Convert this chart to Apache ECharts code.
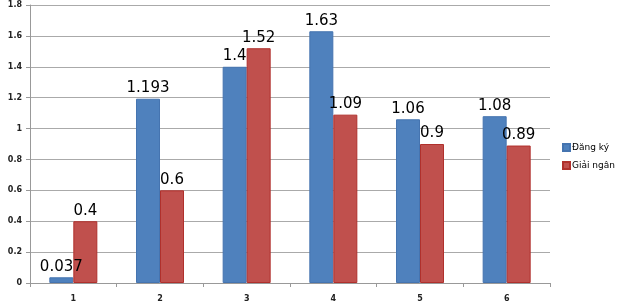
<!DOCTYPE html>
<html><head><meta charset="utf-8">
<script src="https://cdn.jsdelivr.net/npm/echarts@6/dist/echarts.min.js"></script>
<style>html,body{margin:0;padding:0;background:#fff}#c{width:620px;height:304px}</style>
</head><body><div id="c"></div>
<script>
const categories = ['1','2','3','4','5','6'];
const dangKy = [0.037, 1.193, 1.4, 1.63, 1.06, 1.08];
const giaiNgan = [0.4, 0.6, 1.52, 1.09, 0.9, 0.89];
const seriesNames = ['Đăng ký', 'Giải ngân'];

const chart = echarts.init(document.getElementById('c'));
const lbl = {show:true, position:'top', color:'#000', fontSize:15, fontFamily:'DejaVu Sans', distance:3};
chart.setOption({
  animation:false,
  grid:{left:30, right:70, top:5, bottom:21},
  legend:{
    orient:'vertical', left:562, top:143, padding:0, itemWidth:7, itemHeight:7, itemGap:9,
    icon:'rect',
    textStyle:{fontSize:9, color:'#000', fontFamily:'DejaVu Sans', padding:[0,0,0,-3]},
    data:seriesNames
  },
  xAxis:{
    type:'category', data:categories,
    axisLine:{lineStyle:{color:'#999'}},
    axisTick:{show:true, length:4, lineStyle:{color:'#999'}},
    axisLabel:{fontSize:8, color:'#222', fontWeight:'bold', margin:12, fontFamily:'DejaVu Sans'}
  },
  yAxis:{
    type:'value', min:0, max:1.8, interval:0.2,
    axisLine:{show:true, lineStyle:{color:'#999'}},
    axisTick:{show:true, length:4, lineStyle:{color:'#999'}},
    splitLine:{lineStyle:{color:'#aaa'}},
    axisLabel:{fontSize:8, color:'#222', fontWeight:'bold', margin:8, fontFamily:'DejaVu Sans',
      formatter:v=>String(Math.round(v*10)/10)}
  },
  series:[
    {name:seriesNames[0], type:'bar', data:dangKy, barWidth:24, barGap:'0%',
     itemStyle:{color:'#4F81BD', borderColor:'#4574b0', borderWidth:1}, label:lbl},
    {name:seriesNames[1], type:'bar', data:giaiNgan, barWidth:24,
     itemStyle:{color:'#C0504D', borderColor:'#b0302c', borderWidth:1}, label:lbl}
  ]
});
</script></body></html>
